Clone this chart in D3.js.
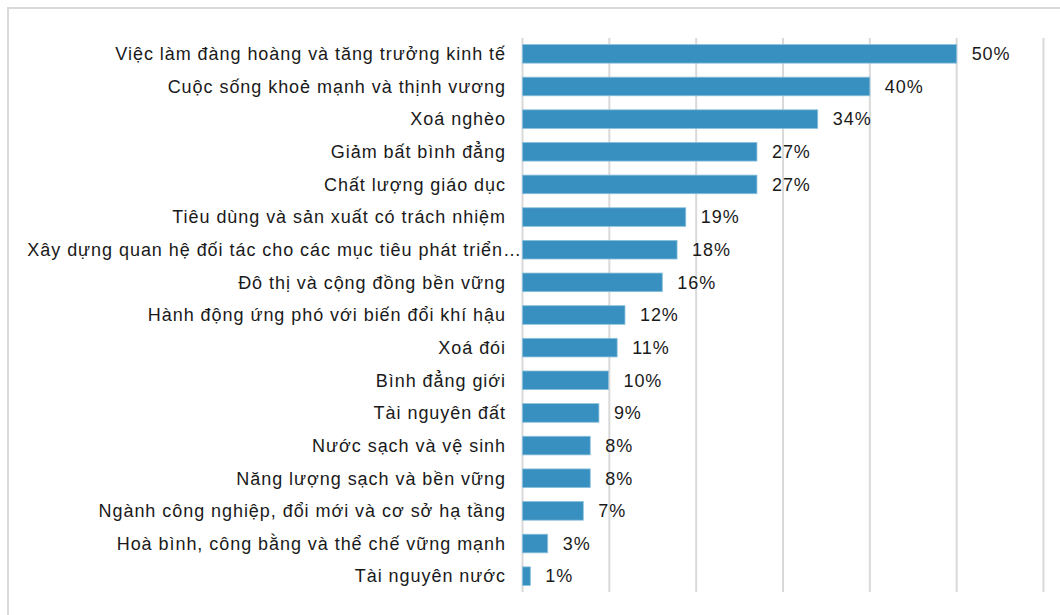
<!DOCTYPE html>
<html>
<head>
<meta charset="utf-8">
<script src="https://cdn.jsdelivr.net/npm/d3@7"></script>
<style>
  body { margin: 0; background: #fff; }
  text { font-family: "Liberation Sans", Arial, sans-serif; }
</style>
</head>
<body>
<div id="chart"></div>
<script>
// Data -------------------------------------
var categories = [
  'Việc làm đàng hoàng và tăng trưởng kinh tế',
  'Cuộc sống khoẻ mạnh và thịnh vương',
  'Xoá nghèo',
  'Giảm bất bình đẳng',
  'Chất lượng giáo dục',
  'Tiêu dùng và sản xuất có trách nhiệm',
  'Xây dựng quan hệ đối tác cho các mục tiêu phát triển…',
  'Đô thị và cộng đồng bền vững',
  'Hành động ứng phó với biến đổi khí hậu',
  'Xoá đói',
  'Bình đẳng giới',
  'Tài nguyên đất',
  'Nước sạch và vệ sinh',
  'Năng lượng sạch và bền vững',
  'Ngành công nghiệp, đổi mới và cơ sở hạ tầng',
  'Hoà bình, công bằng và thể chế vững mạnh',
  'Tài nguyên nước'
];
var values = [50, 40, 34, 27, 27, 18.8, 17.8, 16.1, 11.8, 10.9, 9.9, 8.8, 7.8, 7.8, 7.0, 2.9, 0.9];
var gridTicks = [0, 10, 20, 30, 40, 50, 60];

// Display attributes -----------------------
var W = 1060, H = 615;
var barColor = '#3790bf';
var gridColor = '#d9d9d9';
var fontSize = 18, spacing = 0.95;

var xScale = d3.scaleLinear().domain([0, 60]).range([522.5, 1043.5]);
var yScale = d3.scaleBand().domain(categories).range([38, 592]).paddingInner(0.43).paddingOuter(0.2);

var svg = d3.select('#chart').append('svg')
    .attr('width', W)
    .attr('height', H);

// chart border (only top and left show)
svg.append('rect')
    .attr('x', 8).attr('y', 8)
    .attr('width', W + 20).attr('height', H + 20)
    .attr('fill', 'none')
    .attr('stroke', '#d9d9d9')
    .attr('stroke-width', 2);

// gridlines
svg.append('g').selectAll('line')
    .data(gridTicks)
    .enter().append('line')
    .attr('x1', function(d){return xScale(d)})
    .attr('x2', function(d){return xScale(d)})
    .attr('y1', 38).attr('y2', 592)
    .attr('stroke', gridColor)
    .attr('stroke-width', 2);

var rows = categories.map(function(c, i){ return {name: c, value: values[i]}; });

// bars
svg.append('g').selectAll('rect')
    .data(rows)
    .enter().append('rect')
    .attr('x', xScale(0))
    .attr('y', function(d){return yScale(d.name)})
    .attr('width', function(d){return xScale(d.value) - xScale(0)})
    .attr('height', yScale.bandwidth())
    .attr('fill', barColor)
    .attr('stroke', '#8cc0dc')
    .attr('stroke-width', 0.8);

// category labels (the cut-off one runs up to the axis)
svg.append('g').selectAll('text')
    .data(rows)
    .enter().append('text')
    .attr('x', function(d){ return d.name.slice(-1) === '…' ? 522 : 506; })
    .attr('y', function(d){return yScale(d.name) + yScale.bandwidth()/2})
    .attr('dy', '0.35em')
    .attr('text-anchor', 'end')
    .attr('font-size', fontSize)
    .attr('letter-spacing', spacing)
    .attr('fill', '#1a1a1a')
    .text(function(d){return d.name});

// value labels
var fmt = d3.format('.0f');
svg.append('g').selectAll('text')
    .data(rows)
    .enter().append('text')
    .attr('x', function(d){return xScale(d.value) + 15})
    .attr('y', function(d){return yScale(d.name) + yScale.bandwidth()/2})
    .attr('dy', '0.35em')
    .attr('font-size', fontSize)
    .attr('letter-spacing', spacing)
    .attr('fill', '#1a1a1a')
    .text(function(d){return fmt(d.value) + '%'});
</script>
</body>
</html>
